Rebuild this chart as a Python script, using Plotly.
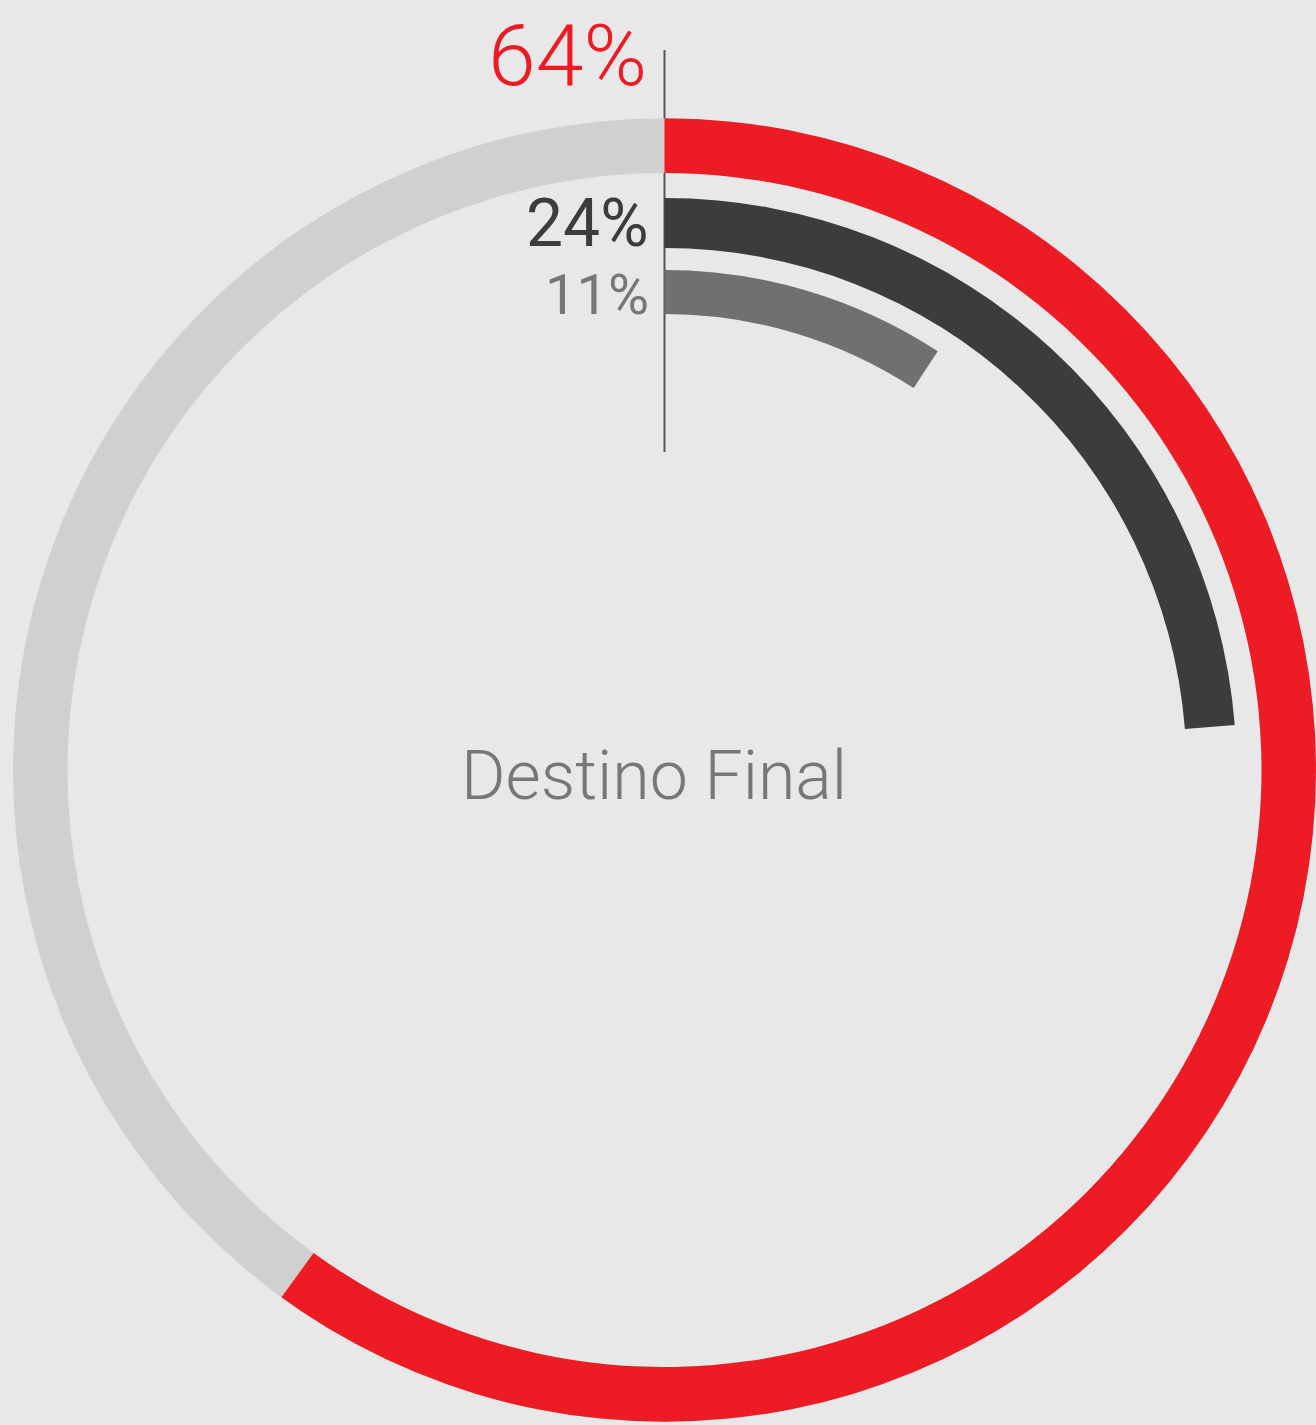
import plotly.graph_objects as go

# ---- data ----
series_names = ["Destino Final A", "Destino Final B", "Destino Final C"]
label_text = ["64%", "24%", "11%"]
arc_pct = [60.0, 23.75, 9.2]          # share of full circle each arc sweeps
center_label = "Destino Final"

# ---- style ----
BG = "#e8e8e8"
TRACK = "#d0d0d0"
colors = ["#ed1c24", "#3c3c3a", "#707070"]
label_colors = ["#ed1c24", "#3c3c3a", "#777777"]
ring_base = [597, 522, 456]
ring_thick = [56, 50, 44]
W, H = 1316, 1425
cx, cy = 664.5, 770.0
R = W - cx

fig = go.Figure()

# background track of outer ring
fig.add_trace(go.Barpolar(theta=[180], width=[360], base=[ring_base[0]], r=[ring_thick[0]],
                          marker=dict(color=TRACK, line=dict(width=0)), hoverinfo="skip",
                          showlegend=False))
for i in range(3):
    sweep = arc_pct[i] * 3.6
    fig.add_trace(go.Barpolar(theta=[sweep / 2], width=[sweep], base=[ring_base[i]], r=[ring_thick[i]],
                              name=series_names[i],
                              marker=dict(color=colors[i], line=dict(width=0)), hoverinfo="skip",
                              showlegend=False))

fig.update_layout(
    width=W, height=H,
    margin=dict(l=0, r=0, t=0, b=0),
    paper_bgcolor=BG, plot_bgcolor=BG,
    showlegend=False,
    polar=dict(
        domain=dict(x=[(cx - R) / W, 1.0], y=[(H - cy - R) / H, (H - cy + R) / H]),
        bgcolor="rgba(0,0,0,0)",
        barmode="overlay",
        radialaxis=dict(range=[0, R], visible=False, showgrid=False),
        angularaxis=dict(rotation=90, direction="clockwise", visible=False, showgrid=False),
    ),
)

# vertical guide line
fig.add_shape(type="line", xref="paper", yref="paper", layer="below",
              x0=cx / W, x1=cx / W, y0=1 - 50 / H, y1=1 - 452 / H,
              line=dict(color="#555555", width=2))

label_y = [55, 224, 295]
label_x = [649, 651, 651]
label_size = [86, 66, 56]
label_fonts = ["Roboto", "Roboto", "Roboto"]
label_weights = [300, 400, 400]
for i in range(3):
    fig.add_annotation(xref="paper", yref="paper", x=label_x[i] / W, y=1 - label_y[i] / H,
                       xanchor="right", yanchor="middle", showarrow=False,
                       text=label_text[i],
                       font=dict(family=label_fonts[i], size=label_size[i], color=label_colors[i],
                                 weight=label_weights[i]))

fig.add_annotation(xref="paper", yref="paper", x=654 / W, y=1 - 776 / H,
                   xanchor="center", yanchor="middle", showarrow=False,
                   text=center_label,
                   font=dict(family="Roboto", size=68, color="#777777", weight=300))

fig.write_html("out.html", config={"displayModeBar": False},
               post_script="document.body.style.margin='0';")
